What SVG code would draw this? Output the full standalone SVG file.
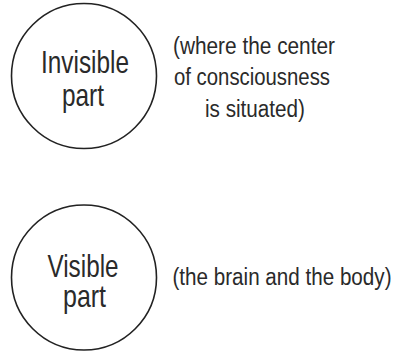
<svg xmlns="http://www.w3.org/2000/svg" width="398" height="352" viewBox="0 0 398 352">
<style>
.c{fill:none;stroke:#222;stroke-width:1.6}
.t{font-family:"Liberation Sans",Arial,sans-serif;fill:#2a2a2a;text-anchor:middle}
.big{font-size:32px}
.sm{font-size:23.5px}
</style>
<rect width="398" height="352" fill="#fff"/>
<g id="invisible">
<circle class="c" cx="84" cy="76" r="72.5"/>
<text class="t big" x="85" y="72.5" textLength="88" lengthAdjust="spacingAndGlyphs">Invisible</text>
<text class="t big" x="83" y="105.5" textLength="42" lengthAdjust="spacingAndGlyphs">part</text>
</g>
<g id="invisible-note">
<text class="t sm" x="254" y="53.5" textLength="162" lengthAdjust="spacingAndGlyphs">(where the center</text>
<text class="t sm" x="252" y="85" textLength="156" lengthAdjust="spacingAndGlyphs">of consciousness</text>
<text class="t sm" x="255" y="116.5" textLength="100" lengthAdjust="spacingAndGlyphs">is situated)</text>
</g>
<g id="visible">
<circle class="c" cx="84" cy="277.5" r="72.5"/>
<text class="t big" x="83" y="276.5" textLength="71" lengthAdjust="spacingAndGlyphs">Visible</text>
<text class="t big" x="84.5" y="306.5" textLength="43" lengthAdjust="spacingAndGlyphs">part</text>
</g>
<g id="visible-note">
<text class="t sm" x="282" y="285" textLength="219" lengthAdjust="spacingAndGlyphs">(the brain and the body)</text>
</g>
<g id="connectors"/>
</svg>
